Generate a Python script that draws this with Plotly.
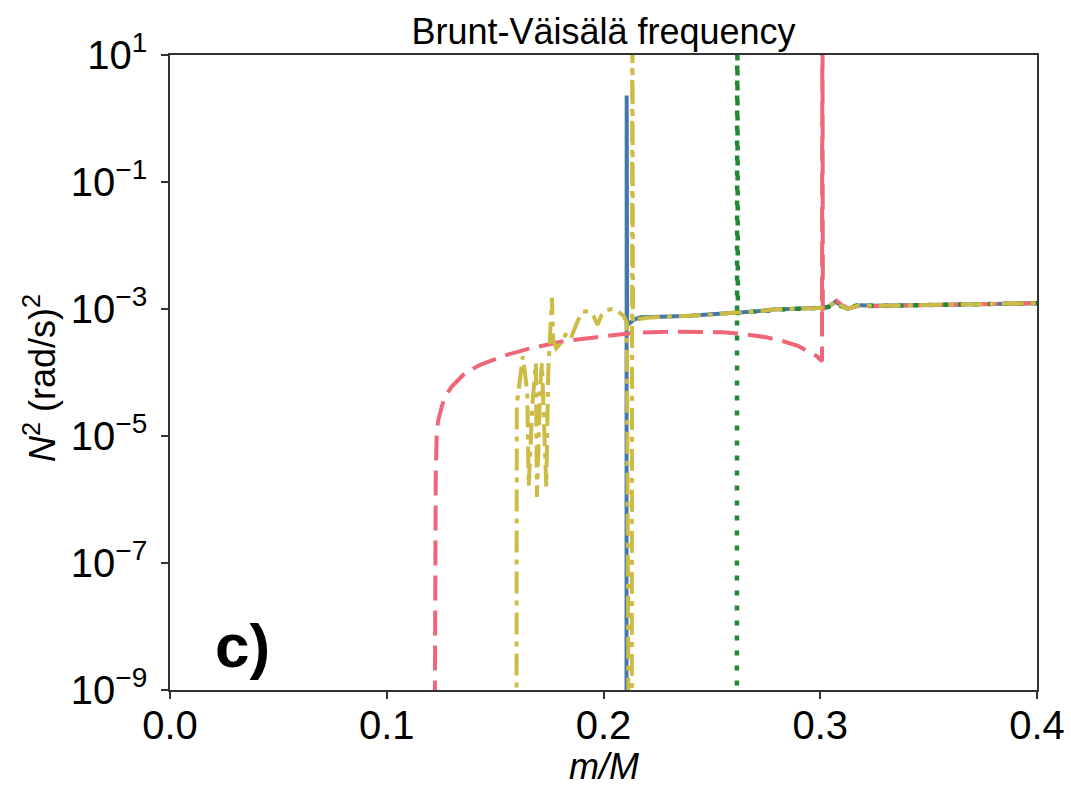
import plotly.graph_objects as go

# ---------------- data ----------------
red_x = [0.1219, 0.1221, 0.1223, 0.1226, 0.1231, 0.1238, 0.1254, 0.1269, 0.1300, 0.1331,
         0.1361, 0.1431, 0.1554, 0.1661, 0.1815, 0.1969, 0.2138, 0.2300, 0.2446, 0.2550,
         0.2630, 0.2750, 0.2830, 0.2900, 0.2950, 0.2985, 0.3008, 0.3010, 0.3012, 0.3040,
         0.3075, 0.3100, 0.3130, 0.3170, 0.3250, 0.3400, 0.3600, 0.3800, 0.4000]
red_y = [1e-12, 1e-8, 2.5e-7, 2.5e-6, 1.23e-5, 1.8e-5, 2.9e-5, 4.2e-5, 6.0e-5, 7.6e-5,
         9.8e-5, 1.32e-4, 1.9e-4, 2.4e-4, 3.1e-4, 3.6e-4, 4.2e-4, 4.4e-4, 4.4e-4, 4.3e-4,
         4.1e-4, 3.6e-4, 3.1e-4, 2.6e-4, 2.1e-4, 1.8e-4, 1.5e-4, 1e3, 1.0e-3, 1.1e-3,
         1.35e-3, 1.15e-3, 1.02e-3, 1.1e-3, 1.12e-3, 1.15e-3, 1.17e-3, 1.2e-3, 1.23e-3]

blue_x = [0.2106, 0.2107, 0.2109, 0.2121, 0.2140, 0.2170, 0.2200, 0.2300, 0.2400, 0.2500,
          0.2600, 0.2700, 0.2780, 0.2850, 0.2950, 0.3000, 0.3040, 0.3070, 0.3100, 0.3125,
          0.3160, 0.3190, 0.3250, 0.3400, 0.3600, 0.3800, 0.4000]
blue_y = [1e-12, 2.3, 5.6e-4, 6.0e-4, 6.8e-4, 7.4e-4, 7.4e-4, 7.6e-4, 7.8e-4, 8.1e-4,
          8.7e-4, 9.1e-4, 9.8e-4, 1.0e-3, 1.02e-3, 1.05e-3, 1.1e-3, 1.3e-3, 1.12e-3, 1.0e-3,
          1.1e-3, 1.15e-3, 1.12e-3, 1.15e-3, 1.17e-3, 1.2e-3, 1.23e-3]

green_x = [0.2615, 0.2617, 0.2620, 0.2700, 0.2780, 0.2850, 0.2950, 0.3000, 0.3040, 0.3070,
           0.3100, 0.3125, 0.3160, 0.3190, 0.3250, 0.3400, 0.3600, 0.3800, 0.4000]
green_y = [1e-12, 1e3, 8.7e-4, 9.1e-4, 9.6e-4, 1.0e-3, 1.02e-3, 1.03e-3, 1.08e-3, 1.2e-3,
           1.1e-3, 1.02e-3, 1.12e-3, 1.18e-3, 1.12e-3, 1.15e-3, 1.17e-3, 1.2e-3, 1.23e-3]

yellow_x = [0.1598, 0.1600, 0.1628, 0.1648, 0.1655, 0.1672, 0.1688, 0.1693, 0.1708, 0.1716,
            0.1736, 0.1745, 0.1762, 0.1768, 0.1782, 0.1800, 0.1830, 0.1850, 0.1877, 0.1900,
            0.1930, 0.1955, 0.1972, 0.1990, 0.2010, 0.2040, 0.2070, 0.2095, 0.2108, 0.2118,
            0.2130, 0.2133, 0.2136, 0.2150, 0.2200, 0.2300, 0.2400, 0.2500, 0.2600, 0.2700,
            0.2780, 0.2850, 0.2950, 0.3000, 0.3040, 0.3070, 0.3100, 0.3125, 0.3160, 0.3190,
            0.3250, 0.3400, 0.3600, 0.3800, 0.4000]
yellow_y = [1e-12, 3.2e-5, 1.8e-4, 5.0e-5, 1.6e-6, 3.2e-5, 1.4e-4, 1.1e-6, 6.3e-5, 1.4e-4,
            1.6e-6, 1.0e-4, 1.5e-3, 3.2e-4, 2.4e-4, 2.8e-4, 4.2e-4, 3.5e-4, 6.0e-4, 8.9e-4,
            9.3e-4, 7.6e-4, 5.6e-4, 7.9e-4, 9.5e-4, 1.0e-3, 9.1e-4, 7.6e-4, 6.0e-4, 1e-12,
            1e-12, 1e3, 6.2e-4, 6.8e-4, 7.3e-4, 7.6e-4, 7.8e-4, 8.1e-4, 8.7e-4, 9.1e-4,
            9.8e-4, 1.0e-3, 1.02e-3, 1.04e-3, 1.1e-3, 1.32e-3, 1.12e-3, 1.0e-3, 1.1e-3, 1.16e-3,
            1.12e-3, 1.15e-3, 1.17e-3, 1.2e-3, 1.23e-3]

x_ticks = [0.0, 0.1, 0.2, 0.3, 0.4]
x_ticklabels = ["0.0", "0.1", "0.2", "0.3", "0.4"]
y_ticks = [1e-9, 1e-7, 1e-5, 1e-3, 1e-1, 1e1]
y_ticklabels = ["10<sup>\u22129</sup>", "10<sup>\u22127</sup>", "10<sup>\u22125</sup>",
                "10<sup>\u22123</sup>", "10<sup>\u22121</sup>", "10<sup>1</sup>"]

# ---------------- figure ----------------
FONT = "Liberation Sans, Arial, Helvetica, sans-serif"
AX = "#333333"
L, R, T, B = 170, 1037, 55, 690
W, H = 1071, 789

fig = go.Figure()
fig.add_trace(go.Scatter(x=blue_x, y=blue_y, mode="lines", showlegend=False,
                         line=dict(color="#4477AA", width=4)))
fig.add_trace(go.Scatter(x=red_x, y=red_y, mode="lines", showlegend=False,
                         line=dict(color="#EE6677", width=4, dash="25px,10px")))
fig.add_trace(go.Scatter(x=green_x, y=green_y, mode="lines", showlegend=False,
                         line=dict(color="#228833", width=4.5, dash="5px,10px")))
fig.add_trace(go.Scatter(x=yellow_x, y=yellow_y, mode="lines", showlegend=False,
                         line=dict(color="#CCBB44", width=4, dash="22px,7px,5px,7px")))

pw, ph = R - L, B - T
fig.update_layout(
    width=W, height=H,
    margin=dict(l=L, r=W - R, t=T, b=H - B, autoexpand=False),
    paper_bgcolor="white", plot_bgcolor="white",
    font=dict(family=FONT, color="black"),
    title=dict(text="Brunt-Väisälä frequency", x=0.5, xref="paper", xanchor="center",
               y=1 - 31 / H, yanchor="middle", font=dict(size=36, family=FONT, color="black")),
    xaxis=dict(range=[0, 0.4], tickvals=x_ticks, ticktext=x_ticklabels,
               ticks="outside", ticklen=7, tickwidth=1.5, tickcolor=AX,
               showline=True, linecolor=AX, linewidth=1.5, mirror=True, automargin=False,
               ticklabelstandoff=-8,
               showgrid=False, zeroline=False, tickfont=dict(size=40, family=FONT)),
    yaxis=dict(type="log", range=[-9, 1], tickvals=y_ticks, ticktext=y_ticklabels,
               ticks="outside", ticklen=7, tickwidth=1.5, tickcolor=AX,
               showline=True, linecolor=AX, linewidth=1.5, mirror=True, automargin=False,
               ticklabelstandoff=6,
               showgrid=False, zeroline=False, tickfont=dict(size=40, family=FONT)),
    annotations=[
        dict(text="<b>c)</b>", xref="paper", yref="paper",
             x=(242 - L) / pw, y=(B - 645) / ph,
             xanchor="center", yanchor="middle", showarrow=False,
             font=dict(size=62, family=FONT, color="black")),
        dict(text="<i>m/M</i>", xref="paper", yref="paper",
             x=0.5, y=(B - 766) / ph, xanchor="center", yanchor="middle", showarrow=False,
             font=dict(size=36, family=FONT, color="black")),
        dict(text="<i>N</i><sup>2</sup> (rad/s)<sup>2</sup>", xref="paper", yref="paper",
             x=(40 - L) / pw, y=(B - 378) / ph, xanchor="center", yanchor="middle",
             textangle=-90, showarrow=False,
             font=dict(size=36, family=FONT, color="black")),
    ],
)

fig.write_html("out.html")
